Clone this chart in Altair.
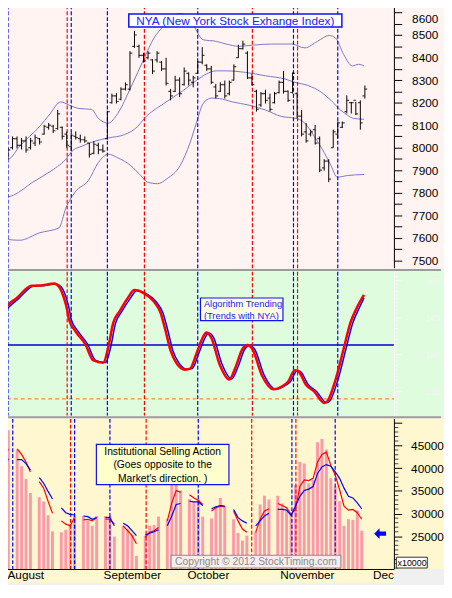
import altair as alt
import pandas as pd

# ---------------- data ----------------
# x positions are trading-day numbers (0 = 1 Aug 2012)
bar_day = list(range(1, 83))
bar_high = [7790, 7963, 7999, 8050, 8050, 8043, 8050, 8043, 8058, 8043,
            8101, 8109, 8101, 8167, 8094, 8072, 8065, 8072, 8058, 8050,
            8022, 8029, 8022, 8014, 8164, 8240, 8242, 8268, 8290, 8428,
            8518, 8457, 8421, 8428, 8392, 8428, 8385, 8399, 8261, 8319,
            8312, 8356, 8334, 8319, 8385, 8446, 8370, 8363, 8283, 8290,
            8298, 8298, 8370, 8457, 8475, 8428, 8327, 8257, 8247, 8257,
            8240, 8247, 8298, 8341, 8254, 8334, 8247, 8167, 8109, 8080,
            8101, 8050, 7949, 7949, 8080, 8116, 8116, 8232, 8203, 8203,
            8210, 8276]
bar_low = [7750, 7850, 7949, 7992, 7997, 7992, 7978, 7992, 8007, 8014,
           8058, 8080, 8065, 8080, 8036, 7999, 7985, 8036, 8022, 8022,
           7956, 7971, 7971, 7978, 8036, 8196, 8196, 8210, 8254, 8254,
           8443, 8399, 8378, 8392, 8327, 8378, 8341, 8276, 8210, 8247,
           8225, 8276, 8276, 8268, 8327, 8370, 8341, 8283, 8218, 8247,
           8218, 8232, 8298, 8399, 8436, 8305, 8276, 8160, 8181, 8196,
           8160, 8196, 8240, 8240, 8203, 8240, 8131, 8050, 8022, 8050,
           8014, 7891, 7898, 7847, 8000, 8043, 8087, 8152, 8152, 8145,
           8080, 8218]
bar_open = [7780, 7860, 7960, 8000, 8040, 8010, 8030, 8000, 8020, 8040,
            8060, 8090, 8095, 8085, 8090, 8060, 8005, 8050, 8040, 8035,
            8020, 7975, 8010, 7990, 8040, 8200, 8230, 8215, 8260, 8260,
            8450, 8450, 8410, 8400, 8390, 8390, 8380, 8350, 8250, 8250,
            8300, 8280, 8330, 8290, 8330, 8380, 8365, 8350, 8270, 8250,
            8280, 8240, 8300, 8400, 8440, 8420, 8310, 8250, 8190, 8240,
            8220, 8200, 8245, 8290, 8250, 8245, 8240, 8140, 8070, 8060,
            8080, 8040, 7910, 7940, 8000, 8060, 8090, 8160, 8200, 8210,
            8200, 8230]
bar_close = [7770, 7950, 7990, 8040, 8010, 8030, 7990, 8030, 8045, 8025,
             8095, 8100, 8075, 8150, 8050, 8010, 8055, 8045, 8035, 8030,
             7970, 8015, 7990, 7985, 8160, 8230, 8205, 8260, 8280, 8420,
             8500, 8410, 8385, 8420, 8340, 8420, 8350, 8285, 8230, 8300,
             8240, 8340, 8300, 8310, 8380, 8410, 8350, 8290, 8230, 8280,
             8230, 8290, 8360, 8440, 8460, 8310, 8280, 8170, 8240, 8210,
             8170, 8240, 8290, 8250, 8210, 8330, 8140, 8060, 8030, 8070,
             8020, 7900, 7940, 7860, 8070, 8110, 8110, 8210, 8200, 8150,
             8110, 8260]

upper_day = [1.26, 3.1, 5.6, 10, 12.1, 14.7, 16.5, 18.7, 21.5, 23, 25.2, 27.3, 30.2,
             33.2, 35.3, 37.5, 39.5, 41.1, 42.5, 44, 46.2, 49.1, 51.3, 54.1, 57.1,
             61.4, 65.8, 68.7, 71.5, 74.1, 75.5, 77.3, 79.2, 80.6, 81.8]
upper_val = [7945, 7949, 8007, 8094, 8145, 8203, 8189, 8174, 8170, 8130, 8109, 8152, 8268,
             8399, 8486, 8542, 8585, 8595, 8585, 8545, 8479, 8472, 8460, 8450, 8455,
             8460, 8460, 8443, 8472, 8498, 8487, 8414, 8363, 8370, 8363]
middle_day = [1.26, 4.2, 8.5, 12.1, 15.8, 17.2, 19.4, 22.3, 25.2, 28.8, 31.7, 33.2,
              37.5, 41.8, 44.7, 46.9, 49.1, 51.3, 55.6, 60, 64.3, 66.5, 69.4, 72.3,
              74.5, 76.6, 78.1, 79.5, 81.8]
middle_val = [7775, 7789, 7847, 7891, 7949, 7985, 8007, 8029, 8043, 8058, 8094, 8130,
              8196, 8254, 8298, 8327, 8341, 8341, 8334, 8319, 8305, 8290, 8276, 8247,
              8210, 8167, 8145, 8130, 8126]
lower_day = [1.26, 5.6, 10, 14.3, 15.8, 17.9, 20.8, 23, 25.2, 27.3, 30.2, 32.4, 33.9,
             36.1, 38.2, 41.1, 43.3, 44.7, 46.2, 48, 49.8, 52.7, 56.3, 60, 63.6, 66.5,
             68.7, 70.8, 73, 74.5, 75.9, 78.1, 81.8]
lower_val = [7596, 7589, 7622, 7644, 7731, 7804, 7854, 7934, 7971, 7955, 7920, 7876, 7847,
             7840, 7862, 7920, 8022, 8109, 8196, 8220, 8218, 8203, 8189, 8167, 8138, 8131,
             8109, 8050, 7978, 7920, 7869, 7876, 7881]

buy_signal_day = [3, 17, 25, 45, 66.2, 76]       # blue dashed lines
sell_signal_day = [16.1, 33.2, 57.1, 67.1]        # red dashed lines

trend_red_day = [1.26, 2.7, 4.9, 8.2, 10.7, 13.2, 14.3, 15.4, 16.1, 16.5, 17.9, 20.1, 21.9,
                 24.1, 25.2, 26.3, 27.7, 29.5, 31, 33.1, 35.3, 36.8, 37.9, 39, 40.4, 42.2,
                 43.3, 44.7, 45.8, 46.9, 48, 49.8, 52, 53.4, 54.9, 56, 57.1, 59.2, 61.8,
                 63.6, 65, 66.5, 67.2, 69, 70.8, 73, 73.7, 75.5, 77.3, 78.8, 80.2, 81.8]
trend_red_val = [145.15, 146.47, 147.58, 149.25, 149.34, 149.56, 149.12, 147.58, 146.03,
                 144.71, 143.16, 141.4, 139.19, 138.88, 140.95, 144.26, 145.81, 147.58,
                 148.68, 148.24, 147.13, 145.59, 143.16, 140.51, 138.75, 137.95, 138.08,
                 140.07, 141.84, 142.94, 142.28, 138.75, 136.63, 138.3, 140.73, 141.26,
                 140.73, 137.2, 135.3, 135.66, 136.32, 137.86, 137.77, 135.88, 134.99,
                 133.45, 133.67, 136.54, 140.73, 144.26, 146.25, 148.02]
trend_blue_day = [1.26, 3.2, 5.3, 8.6, 11.1, 13.6, 14.8, 15.9, 16.6, 17.0, 18.4, 20.6, 22.4,
                  24.6, 25.7, 26.8, 28.2, 30.0, 31.5, 33.6, 35.8, 37.3, 38.4, 39.5, 40.9,
                  42.7, 43.8, 45.2, 46.3, 47.4, 48.5, 50.3, 52.5, 53.9, 55.4, 56.5, 57.6,
                  59.7, 62.3, 64.1, 65.5, 67.0, 67.7, 69.5, 71.3, 73.5, 74.2, 76.0, 77.8,
                  79.3, 80.7, 81.8]
trend_blue_val = [144.9, 146.4, 147.5, 149.2, 149.3, 149.5, 149.1, 147.6, 146.0, 144.7,
                  143.2, 141.4, 139.2, 138.9, 140.9, 144.2, 145.8, 147.5, 148.6, 148.2,
                  147.1, 145.6, 143.2, 140.5, 138.8, 138.0, 138.1, 140.1, 141.8, 142.9,
                  142.3, 138.8, 136.7, 138.3, 140.7, 141.2, 140.7, 137.2, 135.3, 135.7,
                  136.3, 137.8, 137.7, 135.9, 135.0, 133.5, 133.7, 136.5, 140.7, 144.2,
                  146.2, 147.6]
trend_level = [141.26]
support_level = [134.0]

vol_day = [1, 2, 4, 5, 6, 7, 9, 10, 11, 12, 14, 15, 16, 17, 19, 20, 21, 22, 24, 25, 26,
           28, 29, 30, 31, 33, 34, 35, 36, 38, 39, 40, 41, 43, 44, 45, 46, 48, 49, 50, 51,
           53, 54, 55, 56, 58, 59, 60, 61,
           63, 64, 65, 66, 67, 68, 69, 70, 71, 72, 73, 74, 75, 76, 77, 78, 79, 80, 81, 82]
vol_val = [44272, 48384, 44055, 40448, 37634, 34531, 33594, 32656, 29626, 26090,
           25874, 26451, 27677, 29481, 29481, 28543, 27317, 29481, 29481, 29481, 24936,
           27317, 26595, 25369, 20679, 25152, 27317, 27461, 29337, 28904, 36696, 37057,
           35109, 33233, 32511, 33088, 29337, 28904, 31645, 33449, 31645,
           28760, 25729, 24070, 25152, 26018, 32006, 33954, 33088,
           33954, 32222, 30563, 30203, 36335, 41386, 41025, 36696, 37418, 45715, 46436,
           44128, 37778, 35975, 32727, 27317, 28760, 28615, 30707, 26234]
vol_red_val = [41747, 44272, 44272, 43046, 41386, 39222, 37057, 35614, 32727, 30058,
               28399, 27677, 27317, 29120, 28615, 28760, 28399, 29120, 28760, 28760, 27677,
               27317, 26235, 25152, 23348, 24791, 25874, 26235, 26955, 28399, 32367, 35109,
               34676, 34171, 33449, 32944, 32006, 30563, 31285, 31645, 31501,
               30563, 28399, 26595, 25874, 25874, 28760, 30563, 31068,
               32222, 31790, 31285, 29842, 30924, 35975, 37418, 37273, 37778, 41386, 43046,
               43550, 40664, 38500, 35253, 31645, 30780, 30924, 30203, 28760]
vol_blue_val = [39943, 42107, 41891, 41891, 41025, 39582, 37923, 36696, 34892, 33233,
                31285, 30203, 29842, 29698, 29481, 29337, 28760, 29120, 29120, 29120, 27317,
                27894, 27317, 26235, 25152, 25296, 25657, 26018, 26451, 27317, 29481, 32006,
                32222, 32727, 32583, 32583, 31790, 31068, 31501, 31790, 31645,
                30924, 29120, 28399, 27894, 27317, 28399, 29481, 30058,
                30924, 30924, 30780, 29625, 31645, 33810, 35109, 35398, 35975, 38861, 40303,
                40808, 40448, 39222, 37778, 35614, 33810, 33449, 32367, 31068]

month_names = ["August", "September", "October", "November", "Dec"]
month_day = [0, 23, 42, 63, 84]
week_tick_day = [3, 8, 13, 18, 28, 33, 38, 47, 52, 57, 62, 68, 73, 78]

price_ticks = list(range(7500, 8650, 50))
trend_major_ticks = [135, 140, 145, 150]
trend_minor_ticks = [x / 2 for x in range(264, 303) if x % 10 != 0]
vol_major_ticks = [20000, 25000, 30000, 35000, 40000, 45000, 50000]
vol_minor_ticks = [v for v in range(18000, 50001, 1000) if v % 5000 != 0]

title_text = "NYA (New York Stock Exhange Index)"
algo_lines = ["Algorithm Trending", "(Trends with NYA)"]
inst_lines = ["Institutional Selling Action", "(Goes opposite to the", "Market's direction. )"]
copyright_text = "Copyright © 2012 StockTiming.com"
scale_note = "x10000"

# ---------------- layout ----------------
FONT = "Liberation Sans"
W = 452
H1, H2, H3 = 268, 147, 153
AX = 401
XDOM = [1.26, 99.52]
xs = alt.Scale(domain=XDOM, nice=False, zero=False)
BLUE = "#0000ff"
RED = "#ff0000"


def X(field="i"):
    return alt.X(f"{field}:Q", scale=xs, axis=None)


def one():
    return pd.DataFrame({"k": [0]})


def signal_layers():
    b = alt.Chart(pd.DataFrame({"i": buy_signal_day})).mark_rule(
        color=BLUE, strokeDash=[4, 2], strokeWidth=1.2, clip=True).encode(x=X())
    r = alt.Chart(pd.DataFrame({"i": sell_signal_day})).mark_rule(
        color=RED, strokeDash=[4, 2], strokeWidth=1.2, clip=True).encode(x=X())
    return [b, r]


def separator(h):
    return alt.Chart(one()).mark_rule(color="#9c9c9c", strokeWidth=2).encode(
        x=alt.value(3), x2=alt.value(W - 3), y=alt.value(h + 1.5))


def axis_line(h, color):
    return alt.Chart(one()).mark_rule(color=color, strokeWidth=1, clip=True).encode(
        x=alt.value(AX + 0.5), y=alt.value(0), y2=alt.value(h))


def minor_ticks(values, scale, color):
    return alt.Chart(pd.DataFrame({"v": values})).mark_tick(
        orient="horizontal", size=4, thickness=1, color=color, clip=True).encode(
        x=alt.value(AX + 2.5), y=alt.Y("v:Q", scale=scale, axis=None))


# ---------- top: NYA ----------
ys1 = alt.Scale(domain=[7463.5, 8631.8], nice=False, zero=False)
top_test = f"datum.value == {price_ticks[-1]}"
top_axis = alt.Axis(orient="right", offset=AX - W, values=price_ticks,
                    labelExpr="datum.value % 100 == 0 ? datum.value : ''",
                    tickSize=8, tickColor="black", domain=False, labelColor="black",
                    labelFont=FONT, labelFontSize=12, labelPadding=10, grid=False,
                    title=None, labelAlign="left",
                    labelBaseline={"condition": {"test": top_test, "value": "top"},
                                   "value": "middle"},
                    labelOffset={"condition": {"test": top_test, "value": 1}, "value": 0})
ohlc = pd.DataFrame({"i": bar_day, "h": bar_high, "l": bar_low, "o": bar_open, "c": bar_close})
bb = pd.concat([
    pd.DataFrame({"i": upper_day, "v": upper_val, "band": "upper"}),
    pd.DataFrame({"i": middle_day, "v": middle_val, "band": "middle"}),
    pd.DataFrame({"i": lower_day, "v": lower_val, "band": "lower"}),
])
bands = alt.Chart(bb).mark_line(color="#7878c4", strokeWidth=1, interpolate="monotone",
                                clip=True).encode(
    x=X(), y=alt.Y("v:Q", scale=ys1, axis=top_axis), detail="band:N")
hl = alt.Chart(ohlc).mark_rule(color="black", strokeWidth=1, clip=True).encode(
    x=X(), y=alt.Y("h:Q", scale=ys1, axis=None), y2="l:Q")
op = alt.Chart(ohlc).mark_tick(orient="horizontal", size=2.5, thickness=1.2, xOffset=-1.2,
                               color="black", clip=True).encode(
    x=X(), y=alt.Y("o:Q", scale=ys1, axis=None))
cl = alt.Chart(ohlc).mark_tick(orient="horizontal", size=2.5, thickness=1.2, xOffset=1.2,
                               color="black", clip=True).encode(
    x=X(), y=alt.Y("c:Q", scale=ys1, axis=None))
tdf = pd.DataFrame({"t": [title_text]})
tbox = alt.Chart(tdf).mark_rect(fill="#ffffff", stroke="#1010f0", strokeWidth=1.5).encode(
    x=alt.value(131), x2=alt.value(348), y=alt.value(8.8), y2=alt.value(22))
ttxt = alt.Chart(tdf).mark_text(color="#2020ff", fontSize=12, font=FONT, align="center",
                                baseline="middle").encode(
    x=alt.value(239.5), y=alt.value(15.6), text="t:N")
top = alt.layer(bands, *signal_layers(), hl, op, cl, tbox, ttxt, axis_line(H1, "black"),
                separator(H1)).properties(
    width=W, height=H1, view=alt.ViewBackground(fill="#fff4f1", strokeWidth=0)
).resolve_scale(y="independent")

# ---------- middle: algorithm trending ----------
ys2 = alt.Scale(domain=[131.72, 151.19], nice=False, zero=False)
FAINT = "#f8f8f8"
mid_axis = alt.Axis(orient="right", offset=AX - W, values=trend_major_ticks,
                    tickSize=8, tickColor=FAINT, domainColor=FAINT,
                    labelColor="#f4f4f4", labelFont=FONT, labelFontSize=8.5,
                    labelPadding=38, labelAlign="right", labelBaseline="middle",
                    grid=False, title=None)
lvl = alt.Chart(pd.DataFrame({"v": trend_level})).mark_rule(
    color="#0000d0", strokeWidth=1.5, clip=True).encode(
    x=alt.value(0), x2=alt.value(AX), y=alt.Y("v:Q", scale=ys2, axis=mid_axis))
sup = alt.Chart(pd.DataFrame({"v": support_level})).mark_rule(
    color="#ff6a10", strokeWidth=1, strokeDash=[4, 3], clip=True).encode(
    x=alt.value(0), x2=alt.value(AX), y=alt.Y("v:Q", scale=ys2, axis=None))
tb = alt.Chart(pd.DataFrame({"i": trend_blue_day, "v": trend_blue_val})).mark_line(
    color=BLUE, strokeWidth=1.5, interpolate="monotone", clip=True).encode(
    x=X(), y=alt.Y("v:Q", scale=ys2, axis=None))
tr = alt.Chart(pd.DataFrame({"i": trend_red_day, "v": trend_red_val})).mark_line(
    color=RED, strokeWidth=2.6, interpolate="monotone", clip=True).encode(
    x=X(), y=alt.Y("v:Q", scale=ys2, axis=None))
adf = pd.DataFrame({"t": algo_lines, "n": [0, 1]})
abox = alt.Chart(adf.head(1)).mark_rect(fill="#ffffe0", stroke="#1010f0", strokeWidth=1.2).encode(
    x=alt.value(204), x2=alt.value(288), y=alt.value(27), y2=alt.value(50))
atxt = alt.Chart(adf).mark_text(color="#2020ff", fontSize=9.5, font=FONT, align="left",
                                baseline="middle").encode(
    x=alt.value(207.5), y=alt.Y("n:Q", scale=alt.Scale(domain=[0, 1], range=[33, 45]), axis=None),
    text="t:N")
mid = alt.layer(lvl, sup, minor_ticks(trend_minor_ticks, ys2, FAINT), *signal_layers(),
                tb, tr, abox, atxt, separator(H2)).properties(
    width=W, height=H2, view=alt.ViewBackground(fill="#dffcdf", strokeWidth=0)
).resolve_scale(y="independent")

# ---------- bottom: institutional selling ----------
ys3 = alt.Scale(domain=[17792, 50909], nice=False, zero=False)
vol_axis = alt.Axis(orient="right", offset=AX - W, values=vol_major_ticks,
                    labelExpr="datum.value > 20000 && datum.value < 50000 ? datum.value : ''",
                    tickSize=8, tickColor="black", domainColor="black", labelColor="black",
                    labelFont=FONT, labelFontSize=12, labelPadding=9, labelAlign="left",
                    labelBaseline="middle", grid=False, title=None)
month_test = "indexof([" + ",".join(str(d) for d in month_day) + "], datum.value) >= 0"
x_axis = alt.Axis(orient="bottom", values=sorted(week_tick_day + month_day[1:]), labels=False,
                  domain=False, grid=False, title=None, tickColor="black", tickWidth=1,
                  tickSize={"condition": {"test": month_test, "value": 12}, "value": 5},
                  zindex=1)
vdf = pd.DataFrame({"i": vol_day, "v": vol_val, "r": vol_red_val, "b": vol_blue_val})
vdf["seg"] = (vdf["i"].diff() != 1).cumsum()
strip = alt.Chart(one()).mark_rect(color="#fff7cf").encode(
    x=alt.value(0), x2=alt.value(AX), y=alt.value(H3), y2=alt.value(H3 + 14))
bars = alt.Chart(vdf).mark_bar(color="#fb9aa8", size=3, clip=True).encode(
    x=alt.X("i:Q", scale=xs, axis=x_axis),
    y=alt.Y("v:Q", scale=ys3, axis=vol_axis), y2=alt.value(H3))
vr = alt.Chart(vdf).mark_line(color=RED, strokeWidth=1.2, clip=True).encode(
    x=X(), y=alt.Y("r:Q", scale=ys3, axis=None), detail="seg:N")
vb = alt.Chart(vdf).mark_line(color=BLUE, strokeWidth=1.2, clip=True).encode(
    x=X(), y=alt.Y("b:Q", scale=ys3, axis=None), detail="seg:N")
baseline = alt.Chart(one()).mark_rule(color="black", strokeWidth=1).encode(
    x=alt.value(1), x2=alt.value(AX), y=alt.value(H3 + 0.5))
mdf = pd.DataFrame({"name": month_names, "i": month_day})
mlab = alt.Chart(mdf).transform_calculate(
    xi=f"max(datum.i, {XDOM[0]})").mark_text(
    align="left", baseline="alphabetic", fontSize=12, font=FONT, color="black", dx=2.5).encode(
    x=alt.X("xi:Q", scale=xs, axis=None), y=alt.value(H3 + 10.5), text="name:N")
cover = alt.Chart(one()).mark_rect(color="#f0f0f0").encode(
    x=alt.value(AX + 1), x2=alt.value(W), y=alt.value(H3 + 1), y2=alt.value(H3 + 14))
idf = pd.DataFrame({"t": inst_lines, "n": [0, 1, 2]})
ibox = alt.Chart(idf.head(1)).mark_rect(fill="#ffffcc", stroke="#1010f0", strokeWidth=1.2).encode(
    x=alt.value(98), x2=alt.value(233), y=alt.value(26), y2=alt.value(67))
itxt = alt.Chart(idf).mark_text(color="black", fontSize=10.5, font=FONT, align="center",
                                baseline="middle").encode(
    x=alt.value(165.5), y=alt.Y("n:Q", scale=alt.Scale(domain=[0, 2], range=[33.5, 61.5]), axis=None),
    text="t:N")
cdf = pd.DataFrame({"t": [copyright_text]})
cbox = alt.Chart(cdf).mark_rect(fill="#f6eeee", stroke="#8c8c8c", strokeWidth=1.2).encode(
    x=alt.value(174), x2=alt.value(347), y=alt.value(139), y2=alt.value(152))
ctxt = alt.Chart(cdf).mark_text(color="#8a8a8a", fontSize=10.5, font=FONT, align="center",
                                baseline="middle").encode(
    x=alt.value(260.5), y=alt.value(146), text="t:N")
sdf = pd.DataFrame({"t": [scale_note]})
sbox = alt.Chart(sdf).mark_rect(fill="#ffffff", stroke="#303030", strokeWidth=1).encode(
    x=alt.value(403.5), x2=alt.value(435), y=alt.value(141), y2=alt.value(152))
stxt = alt.Chart(sdf).mark_text(color="black", fontSize=9, font=FONT, align="center",
                                baseline="middle").encode(
    x=alt.value(419.5), y=alt.value(146.8), text="t:N")
arrow = alt.Chart(one()).mark_point(
    shape="M -1 0 L -0.1 -0.9 L -0.1 -0.35 L 1 -0.35 L 1 0.35 L -0.1 0.35 L -0.1 0.9 Z",
    size=144, filled=True, color=BLUE, opacity=1).encode(x=alt.value(387), y=alt.value(117))
bot = alt.layer(strip, bars, minor_ticks(vol_minor_ticks, ys3, "black"), *signal_layers(),
                vr, vb, baseline, mlab, cover,
                ibox, itxt, cbox, ctxt, sbox, stxt, arrow).properties(
    width=W, height=H3, view=alt.ViewBackground(fill="#fff7cf", strokeWidth=0)
).resolve_scale(y="independent")

chart = alt.vconcat(top, mid, bot, spacing=3, bounds="flush").properties(
    padding={"left": -8, "top": -8, "right": 0, "bottom": -3}, background="#f0f0f0"
).configure_view(strokeWidth=0).configure_text(font=FONT).configure_axis(labelFont=FONT)

chart.save("out.html", embed_options={"renderer": "svg", "actions": False})
